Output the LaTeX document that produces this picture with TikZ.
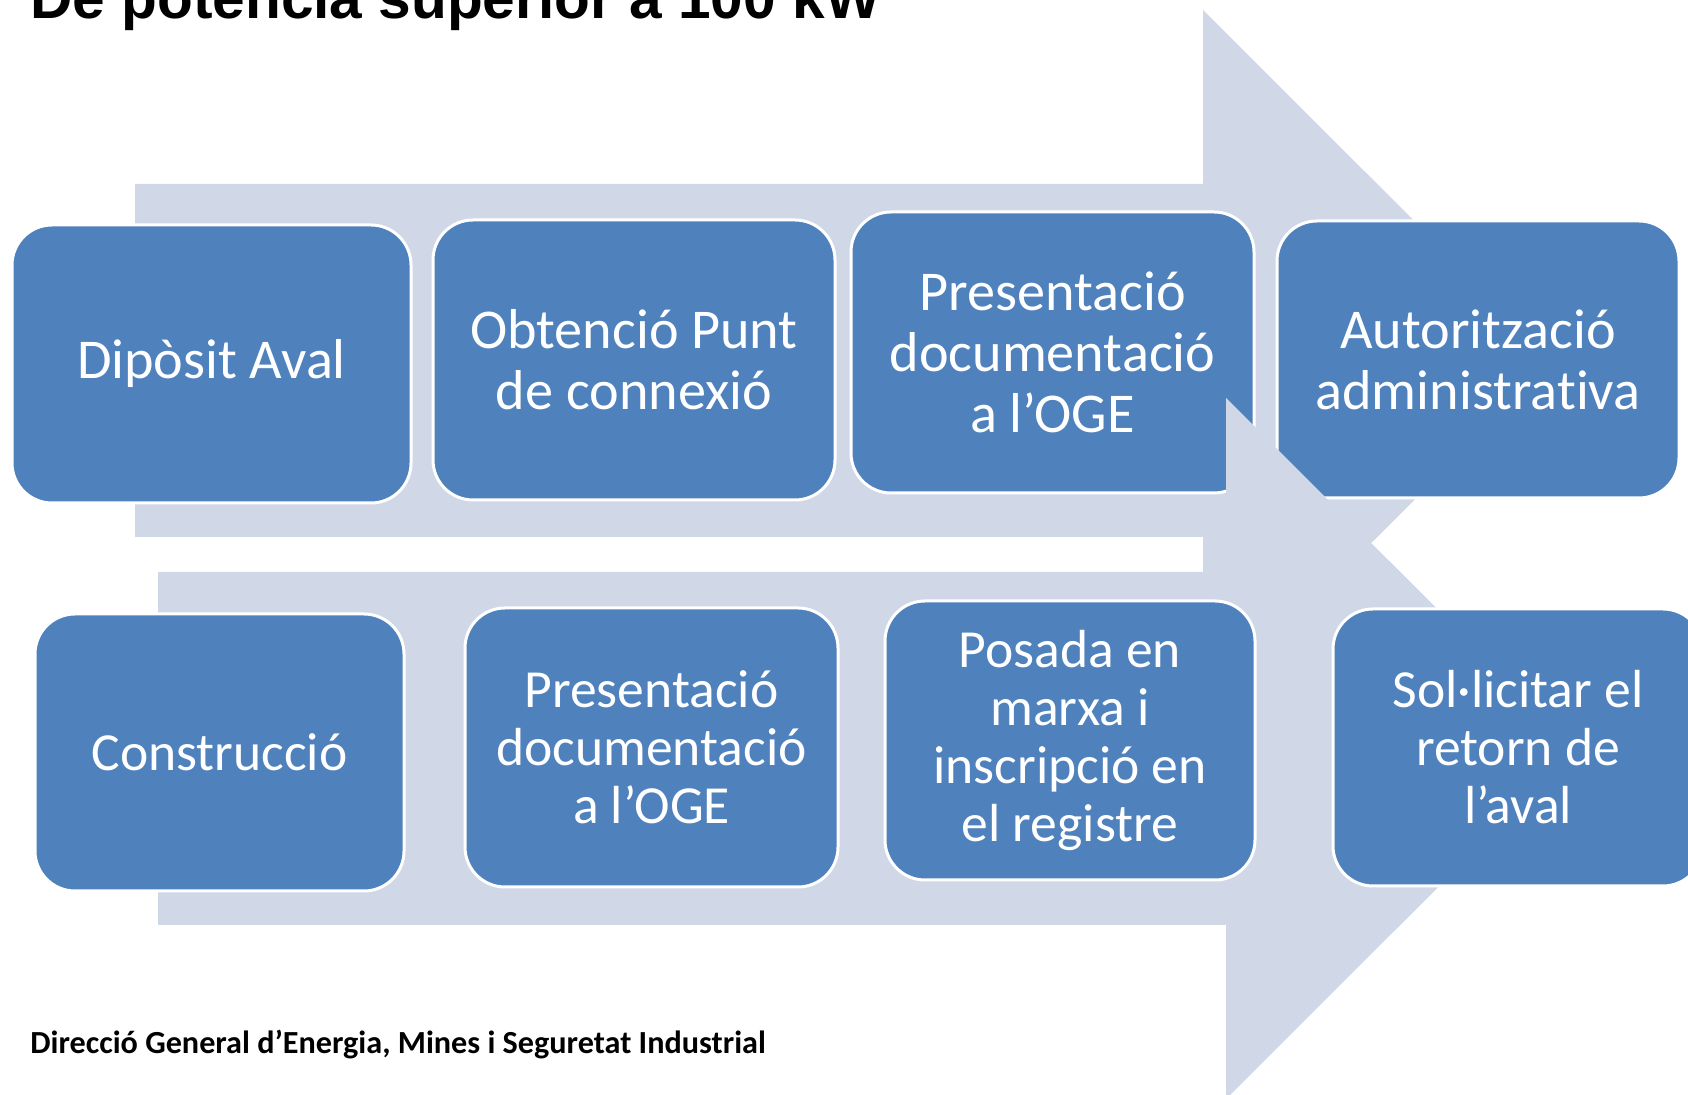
\documentclass[tikz,border=0pt]{standalone}
\usepackage{fontspec}
\newfontfamily\calibri[Ligatures=NoCommon]{Carlito}
\newfontfamily\arialfont{Liberation Sans}
\definecolor{boxblue}{HTML}{4F81BD}
\definecolor{arrowgrey}{HTML}{D0D8E8}
\tikzset{
  stepbox/.style={draw=white, line width=1.5pt, fill=boxblue, rounded corners=20pt,
    text=white, align=center, inner sep=0pt},
  toprow/.style={stepbox, font=\calibri\fontsize{28.1}{30.6}\selectfont},
  botrow/.style={stepbox, font=\calibri\fontsize{26.8}{29}\selectfont},
  bigarrow/.style={fill=arrowgrey, draw=none},
}
\begin{document}
\begin{tikzpicture}[x=0.5pt, y=-0.5pt]
\useasboundingbox (0,0) rectangle (1688,1095);
\clip (0,0) rectangle (1688,1095);
% upper arrow
\fill[bigarrow] (135,184) -- (1203,184) -- (1203,10) -- (1554,360.5) -- (1203,711) -- (1203,537) -- (135,537) -- cycle;
% top row
\node[toprow, minimum width=199.5pt, minimum height=139pt] (b1) at (211.5,364) {Dipòsit Aval};
\node[toprow, minimum width=201pt, minimum height=140pt] (b2) at (634,360) {Obtenció Punt\\de connexió};
\node[toprow, minimum width=201.5pt, minimum height=140.5pt] (b3) at (1052.5,352.5) {Presentació\\documentació\\a l’OGE};
\node[toprow, minimum width=201pt, minimum height=138.5pt] (b4) at (1478,359.5) {Autorització\\administrativa};
% lower arrow
\fill[bigarrow] (158,572) -- (1226,572) -- (1226,398) -- (1577,748.5) -- (1226,1099) -- (1226,925) -- (158,925) -- cycle;
% bottom row
\node[botrow, minimum width=184.5pt, minimum height=138.5pt] (b5) at (219.5,752.5) {Construcció};
\node[botrow, minimum width=186.5pt, minimum height=139.5pt] (b6) at (651.5,747.5) {Presentació\\documentació\\a l’OGE};
\node[botrow, minimum width=185pt, minimum height=139.5pt] (b7) at (1070,740.5) {Posada en\\marxa i\\inscripció en\\el registre};
\node[botrow, minimum width=185pt, minimum height=138.5pt] (b8) at (1518,747.5) {Sol·licitar el\\retorn de\\l’aval};
% title and footer
\node[anchor=base west, inner sep=0pt, font=\arialfont\bfseries\fontsize{29.3}{34}\selectfont] (title) at (30,19) {De potencia superior a 100 kW};
\node[anchor=base west, inner sep=0pt, font=\calibri\bfseries\fontsize{16.1}{19}\selectfont] (footer) at (30,1054) {Direcció General d’Energia, Mines i Seguretat Industrial};
\end{tikzpicture}
\end{document}
